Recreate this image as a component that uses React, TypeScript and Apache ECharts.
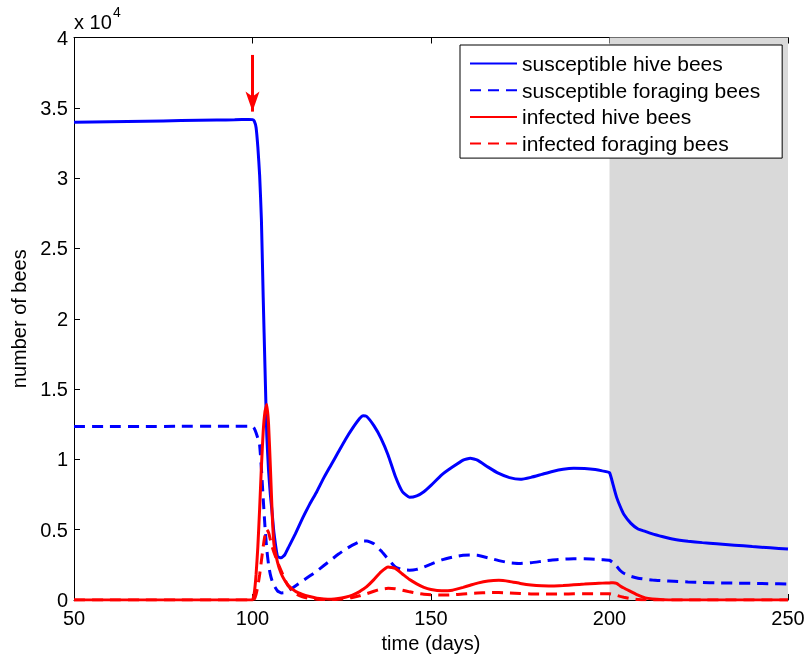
import React, { useEffect, useRef } from "react";
import * as echarts from "echarts";

// time axis (days)
const days = [
  50, 60, 70, 80, 90, 95, 99, 100, 100.5, 101,
  101.5, 102, 102.5, 103, 103.5, 104, 104.5, 105, 105.5, 106,
  107, 108, 109, 110, 112, 114, 116, 118, 120, 122,
  124, 126, 128, 130, 131, 132, 134, 136, 138, 140,
  142, 144, 146, 148, 150, 153, 156, 159, 161, 163,
  166, 169, 172, 175, 178, 181, 184, 187, 190, 193,
  196, 198, 200, 201, 202, 203, 204, 206, 208, 210,
  212, 215, 218, 222, 226, 230, 235, 240, 245, 250,
];

// values in units of 10^4 bees
const susceptibleHive = [
  3.397, 3.401, 3.405, 3.409, 3.413, 3.415, 3.417, 3.416, 3.405, 3.36,
  3.22, 3.02, 2.7, 2.15, 1.65, 1.17, 0.92, 0.75, 0.62, 0.48,
  0.31, 0.3, 0.32, 0.37, 0.47, 0.58, 0.68, 0.77, 0.87, 0.96,
  1.05, 1.14, 1.22, 1.29, 1.31, 1.305, 1.24, 1.15, 1.03, 0.88,
  0.77, 0.73, 0.74, 0.77, 0.815, 0.89, 0.945, 0.995, 1.008, 0.995,
  0.945, 0.9, 0.87, 0.858, 0.872, 0.893, 0.914, 0.93, 0.937, 0.935,
  0.928, 0.918, 0.905, 0.82, 0.73, 0.665, 0.61, 0.545, 0.505, 0.488,
  0.47, 0.45, 0.432, 0.418, 0.408, 0.4, 0.39, 0.38, 0.371, 0.362,
];

const susceptibleForaging = [
  1.233, 1.234, 1.234, 1.235, 1.236, 1.236, 1.236, 1.234, 1.22, 1.19,
  1.15, 1.1, 0.93, 0.72, 0.52, 0.36, 0.25, 0.18, 0.135, 0.105,
  0.065, 0.05, 0.052, 0.065, 0.1, 0.135, 0.17, 0.205, 0.245, 0.285,
  0.325, 0.36, 0.39, 0.415, 0.42, 0.42, 0.4, 0.35, 0.29, 0.235,
  0.215, 0.212, 0.218, 0.235, 0.255, 0.285, 0.305, 0.318, 0.32, 0.318,
  0.3, 0.28, 0.265, 0.26, 0.265, 0.275, 0.285, 0.29, 0.293, 0.293,
  0.29, 0.287, 0.283, 0.265, 0.24, 0.21, 0.19, 0.168, 0.155, 0.148,
  0.142, 0.137, 0.133, 0.128, 0.125, 0.122, 0.12, 0.118, 0.116, 0.114,
];

const infectedHive = [
  0, 0, 0, 0, 0, 0, 0, 0, 0.05, 0.18,
  0.38, 0.65, 0.95, 1.2, 1.34, 1.39, 1.25, 0.95, 0.62, 0.4,
  0.27, 0.19, 0.14, 0.105, 0.062, 0.04, 0.025, 0.013, 0.008, 0.006,
  0.01, 0.02, 0.035, 0.06, 0.077, 0.095, 0.145, 0.2, 0.235, 0.225,
  0.185, 0.145, 0.115, 0.09, 0.075, 0.066, 0.07, 0.09, 0.105, 0.12,
  0.135, 0.14, 0.132, 0.118, 0.107, 0.101, 0.1, 0.103, 0.108, 0.113,
  0.118, 0.12, 0.121, 0.123, 0.118, 0.1, 0.085, 0.06, 0.035, 0.015,
  0.007, 0.002, 0, 0, 0, 0, 0, 0, 0, 0,
];

const infectedForaging = [
  0, 0, 0, 0, 0, 0, 0, 0, 0.005, 0.04,
  0.1, 0.18, 0.28, 0.38, 0.46, 0.5, 0.48, 0.43, 0.38, 0.34,
  0.27, 0.21, 0.15, 0.1, 0.045, 0.022, 0.012, 0.006, 0.004, 0.004,
  0.006, 0.01, 0.018, 0.03, 0.038, 0.045, 0.062, 0.077, 0.083, 0.08,
  0.07, 0.058, 0.048, 0.041, 0.037, 0.035, 0.037, 0.043, 0.047, 0.05,
  0.053, 0.053, 0.05, 0.046, 0.043, 0.042, 0.042, 0.043, 0.044, 0.045,
  0.045, 0.045, 0.044, 0.04, 0.033, 0.026, 0.02, 0.01, 0.004, 0.002,
  0, 0, 0, 0, 0, 0, 0, 0, 0, 0,
];

const seriesNames = [
  "susceptible hive bees",
  "susceptible foraging bees",
  "infected hive bees",
  "infected foraging bees",
];

// shaded period and treatment arrow
const shadeRange = [200, 250];
const arrowDay = 100;
const arrowFrom = 3.876;
const arrowTo = 3.473;

const FONT = "'Liberation Sans', Arial, Helvetica, sans-serif";

export default function App() {
  const ref = useRef<HTMLDivElement>(null);

  useEffect(() => {
    document.body.style.margin = "0";
    const chart = echarts.init(ref.current!, null, { renderer: "svg" });
    const pairs = (arr: number[]) => days.map((d, i) => [d, arr[i]]);
    const lineSeries = (name: string, arr: number[], color: string, dashed: boolean) => ({
      name,
      type: "line",
      data: pairs(arr),
      showSymbol: false,
      symbol: "none",
      smooth: 0.15,
      z: 3,
      lineStyle: { color, width: 3, type: dashed ? [11, 7] : "solid" },
      itemStyle: { color },
      emphasis: { disabled: true },
    });

    chart.setOption({
      animation: false,
      textStyle: { fontFamily: FONT, color: "#000" },
      grid: { left: 74, right: 21, top: 37.5, bottom: 59, outerBoundsMode: "none" },
      xAxis: [
        {
          type: "value",
          min: 50,
          max: 250,
          interval: 50,
          name: "time (days)",
          nameLocation: "middle",
          nameGap: 30,
          nameTextStyle: { fontSize: 20, color: "#000", fontFamily: FONT },
          axisLine: { lineStyle: { color: "#000", width: 1 } },
          axisTick: { inside: true, length: 6, lineStyle: { color: "#000" } },
          axisLabel: { fontSize: 20, color: "#000", margin: 8, fontFamily: FONT },
          splitLine: { show: false },
        },
        {
          type: "value",
          position: "top",
          min: 50,
          max: 250,
          interval: 50,
          axisLine: { onZero: false, lineStyle: { color: "#000", width: 1 } },
          axisTick: { inside: true, length: 6, lineStyle: { color: "#000" } },
          axisLabel: { show: false },
          splitLine: { show: false },
        },
      ],
      yAxis: {
        type: "value",
        min: 0,
        max: 4,
        interval: 0.5,
        name: "number of bees",
        nameLocation: "middle",
        nameGap: 44,
        nameTextStyle: { fontSize: 20, color: "#000", fontFamily: FONT },
        axisLine: { show: true, lineStyle: { color: "#000", width: 1 } },
        axisTick: { show: true, inside: true, length: 6, lineStyle: { color: "#000" } },
        axisLabel: { fontSize: 20, color: "#000", margin: 6, fontFamily: FONT },
        splitLine: { show: false },
      },
      legend: {
        data: seriesNames,
        orient: "vertical",
        left: 460,
        top: 45,
        itemWidth: 47,
        itemHeight: 14,
        itemGap: 5.7,
        padding: [8, 22, 4, 9],
        backgroundColor: "#fff",
        borderColor: "#000",
        borderWidth: 1,
        selectedMode: false,
        itemStyle: { opacity: 0 },
        textStyle: { fontSize: 21, color: "#000", fontFamily: FONT },
      },
      graphic: [
        { type: "text", left: 74, top: 11.5, style: { text: "x 10", fontSize: 20, fill: "#000", fontFamily: FONT } },
        { type: "text", left: 113, top: 5, style: { text: "4", fontSize: 14, fill: "#000", fontFamily: FONT } },
      ],
      series: [
        {
          name: "shade",
          type: "line",
          data: [[shadeRange[0], 0]],
          symbol: "none",
          showSymbol: false,
          lineStyle: { width: 0 },
          z: 1,
          silent: true,
          markArea: {
            silent: true,
            itemStyle: { color: "#d9d9d9", opacity: 1 },
            data: [[{ xAxis: shadeRange[0], yAxis: 0 }, { xAxis: shadeRange[1], yAxis: 4 }]],
          },
          markLine: {
            silent: true,
            symbol: ["none", "arrow"],
            label: { show: false },
            lineStyle: { color: "#ff0000", width: 3, type: "solid" },
            emphasis: { disabled: true },
            data: [[
              { coord: [arrowDay, arrowFrom] },
              { coord: [arrowDay, arrowTo], symbol: "arrow", symbolSize: [10.5, 20] },
            ]],
          },
        },
        lineSeries(seriesNames[0], susceptibleHive, "#0000ff", false),
        lineSeries(seriesNames[1], susceptibleForaging, "#0000ff", true),
        lineSeries(seriesNames[2], infectedHive, "#ff0000", false),
        lineSeries(seriesNames[3], infectedForaging, "#ff0000", true),
      ],
    });
    return () => chart.dispose();
  }, []);

  return <div ref={ref} style={{ width: 809, height: 659, position: "fixed", left: 0, top: 0 }} />;
}
